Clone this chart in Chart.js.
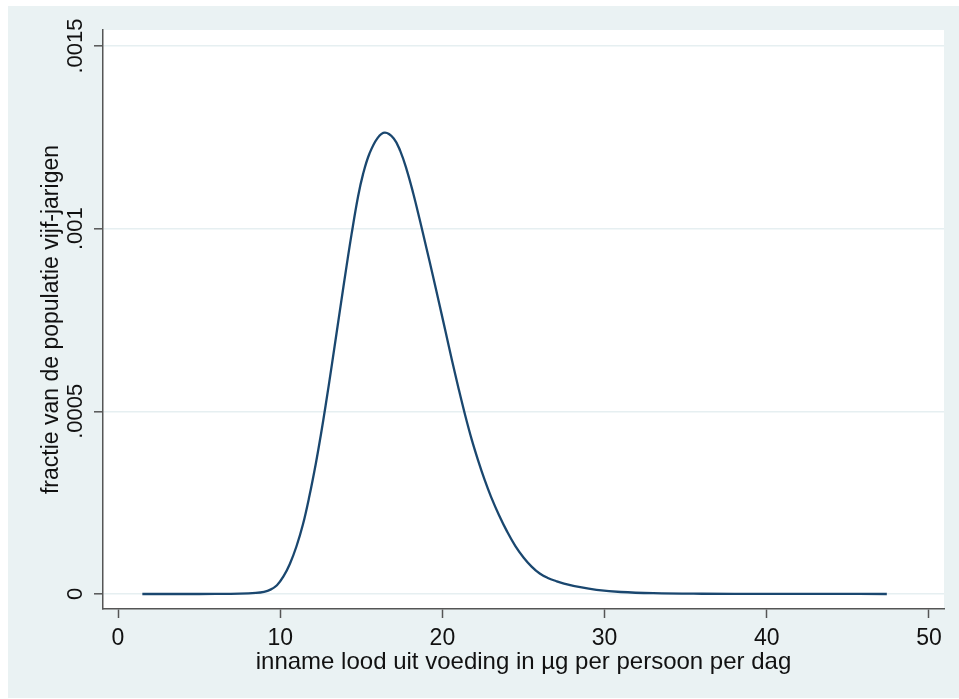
<!DOCTYPE html>
<html>
<head>
<meta charset="utf-8">
<script src="https://cdn.jsdelivr.net/npm/chart.js@4/dist/chart.umd.min.js"></script>
<style>
  html, body { margin: 0; padding: 0; background: #ffffff; }
  #wrap { position: absolute; left: 8px; top: 6px; width: 951px; height: 692px; background: #EAF2F3; }
</style>
</head>
<body>
<div id="wrap"><canvas id="c" width="951" height="692"></canvas></div>
<script>
// Data
const intakeValues = [1.5, 4, 6, 7.5, 8.5, 9.0, 9.4, 9.8, 10.2, 10.6, 11.0, 11.4, 11.8, 12.2, 12.5, 12.8, 13.2, 13.7, 14.1, 14.4, 14.8, 15.1, 15.5, 16.0, 16.46, 17.0, 17.4, 17.8, 18.2, 18.6, 19.0, 19.4, 19.8, 20.2, 20.6, 21.0, 21.4, 21.8, 22.2, 22.6, 23.0, 23.5, 24.0, 24.5, 25.0, 25.5, 26.0, 26.5, 27.0, 27.5, 28.5, 29.5, 31.0, 33.0, 36.0, 40.0, 44.0, 47.4];
const fractionValues = [0, 0, 0.0000002, 0.000001, 0.000003, 0.000006, 0.000012, 0.000024, 0.000048, 0.000083, 0.00013, 0.00019, 0.000268, 0.000358, 0.000434, 0.000516, 0.000632, 0.000782, 0.0009, 0.000985, 0.001088, 0.001148, 0.001205, 0.001248, 0.001263, 0.001247, 0.001213, 0.001161, 0.001097, 0.001025, 0.00095, 0.000874, 0.000796, 0.000717, 0.000638, 0.000562, 0.00049, 0.000424, 0.000366, 0.000313, 0.000266, 0.000215, 0.00017, 0.000131, 0.0001, 0.000075, 0.000056, 0.000044, 0.0000355, 0.0000285, 0.0000185, 0.0000115, 0.0000055, 0.0000022, 0.0000007, 0.0000002, 0.0000001, 0.00000005];
const xTickValues = [0, 10, 20, 30, 40, 50];
const xTickLabels = ['0', '10', '20', '30', '40', '50'];
const yTickValues = [0, 0.0005, 0.001, 0.0015];
const yTickLabels = ['0', '.0005', '.001', '.0015'];
const xTitle = 'inname lood uit voeding in µg per persoon per dag';
const yTitle = 'fractie van de populatie vijf-jarigen';

const FONT = '"Liberation Sans", Arial, sans-serif';
const AXIS = '#555555';
const GRID = '#E6EFF1';

const points = intakeValues.map((x, i) => ({ x: x, y: fractionValues[i] }));

const plotBg = {
  id: 'plotBg',
  beforeDraw(chart) {
    const { ctx, chartArea: a } = chart;
    ctx.save();
    ctx.fillStyle = '#ffffff';
    ctx.fillRect(a.left, a.top, a.right - a.left, a.bottom - a.top);
    ctx.restore();
  }
};

new Chart(document.getElementById('c'), {
  type: 'line',
  data: {
    datasets: [{
      data: points,
      borderColor: '#1A476F',
      borderWidth: 2.3,
      pointRadius: 0,
      fill: false,
      tension: 0.4
    }]
  },
  options: {
    responsive: false,
    animation: false,
    layout: { padding: { left: 0, top: 24, right: 15, bottom: 0 } },
    plugins: { legend: { display: false }, tooltip: { enabled: false } },
    scales: {
      x: {
        type: 'linear',
        min: -0.925,
        max: 50.925,
        afterBuildTicks: (s) => { s.ticks = xTickValues.map(v => ({ value: v })); },
        afterFit: (s) => { s.height = 89; },
        ticks: {
          autoSkip: false,
          maxRotation: 0,
          padding: 7,
          color: '#111111',
          font: { family: FONT, size: 23 },
          callback: (v) => xTickLabels[xTickValues.indexOf(v)]
        },
        grid: { drawOnChartArea: false, drawTicks: true, tickLength: 9, tickColor: AXIS, tickWidth: 1.5 },
        border: { display: true, color: AXIS, width: 1.5 },
        title: {
          display: true,
          text: xTitle,
          color: '#111111',
          font: { family: FONT, size: 24 },
          padding: { top: 0, bottom: 21 }
        }
      },
      y: {
        type: 'linear',
        min: -0.00004106,
        max: 0.0015438,
        afterBuildTicks: (s) => { s.ticks = yTickValues.map(v => ({ value: v })); },
        afterFit: (s) => { s.width = 95; },
        ticks: {
          autoSkip: false,
          minRotation: 90,
          maxRotation: 90,
          crossAlign: 'center',
          padding: -9,
          color: '#111111',
          font: { family: FONT, size: 22 },
          callback: (v) => yTickLabels[yTickValues.indexOf(v)]
        },
        grid: { drawOnChartArea: true, color: GRID, lineWidth: 1.6, drawTicks: true, tickLength: 9, tickColor: AXIS, tickWidth: 1.5 },
        border: { display: true, color: AXIS, width: 1.5 },
        title: {
          display: true,
          text: yTitle,
          color: '#111111',
          font: { family: FONT, size: 23 },
          padding: { top: 30, bottom: 0 }
        }
      }
    }
  },
  plugins: [plotBg]
});
</script>
</body>
</html>
